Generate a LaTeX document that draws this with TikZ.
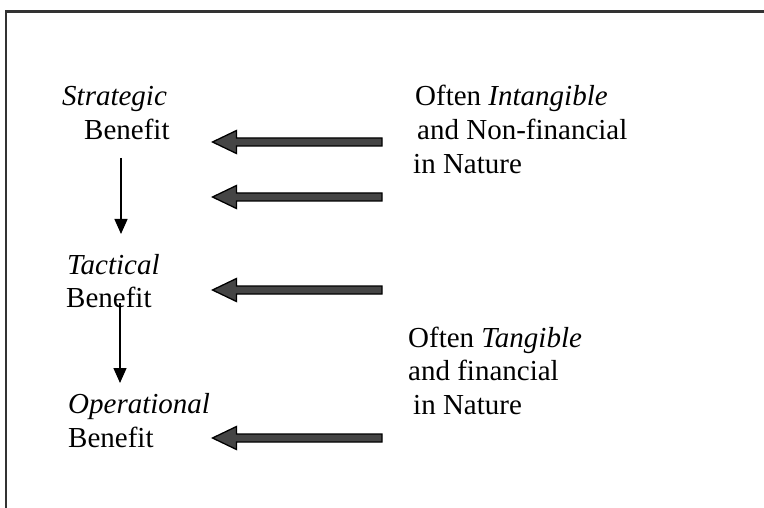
\documentclass[tikz,border=0pt]{standalone}
\usepackage{fontspec}
\setmainfont{Liberation Serif}
\usetikzlibrary{arrows.meta,calc}
\definecolor{framegray}{HTML}{333333}
\definecolor{arrowfill}{HTML}{454545}
\begin{document}
\begin{tikzpicture}[x=1pt,y=-1pt,
  lbl/.style={anchor=base west, inner sep=0pt, font=\fontsize{29}{34}\selectfont},
  fatarrow/.style={draw=black, line width=1.3pt, fill=arrowfill, line join=miter,
    to path={($(\tikztostart)+(0,-4)$) -- ($(\tikztotarget)+(24,-4)$)
      -- ($(\tikztotarget)+(24,-11.5)$) -- (\tikztotarget)
      -- ($(\tikztotarget)+(24,11.5)$) -- ($(\tikztotarget)+(24,4)$)
      -- ($(\tikztostart)+(0,4)$) -- cycle}},
  thinarrow/.style={line width=1.4pt, -{Triangle[length=15pt,width=13pt]}},
  frameline/.style={draw=framegray, line width=2.5pt}]
\useasboundingbox (0,0) rectangle (764,508);
% frame
\coordinate (fbl) at (6,508);
\coordinate (ftl) at (6,11.5);
\coordinate (ftr) at (764,11.5);
\draw[frameline] (fbl) -- (ftl) -- (ftr);
% left labels
\node[lbl] (strat) at (62,106) {\textit{Strategic}};
\node[lbl] (stratb) at (84,140) {Benefit};
\node[lbl] (tact) at (67,274) {\textit{Tactical}};
\node[lbl] (tactb) at (66,307) {Benefit};
\node[lbl] (oper) at (68,413) {\textit{Operational}};
\node[lbl] (operb) at (68,447) {Benefit};
% right labels
\node[lbl] (r1) at (415,106) {Often \textit{Intangible}};
\node[lbl] (r2) at (417,140) {and Non-financial};
\node[lbl] (r3) at (413,174) {in Nature};
\node[lbl] (r4) at (408,347) {Often \textit{Tangible}};
\node[lbl] (r5) at (408,380) {and financial};
\node[lbl] (r6) at (413,414) {in Nature};
% vertical arrows
\coordinate (v1s) at (121,158);
\coordinate (v1e) at (121,234);
\coordinate (v2s) at (120,303);
\coordinate (v2e) at (120,383);
\draw[thinarrow] (v1s) -- (v1e);
\draw[thinarrow] (v2s) -- (v2e);
% fat arrows
\coordinate (a1t) at (382,142); \coordinate (a1h) at (212.5,142);
\coordinate (a2t) at (382,197); \coordinate (a2h) at (212.5,197);
\coordinate (a3t) at (382,290); \coordinate (a3h) at (212.5,290);
\coordinate (a4t) at (382,438); \coordinate (a4h) at (212.5,438);
\draw[fatarrow] (a1t) to (a1h);
\draw[fatarrow] (a2t) to (a2h);
\draw[fatarrow] (a3t) to (a3h);
\draw[fatarrow] (a4t) to (a4h);
\end{tikzpicture}
\end{document}
